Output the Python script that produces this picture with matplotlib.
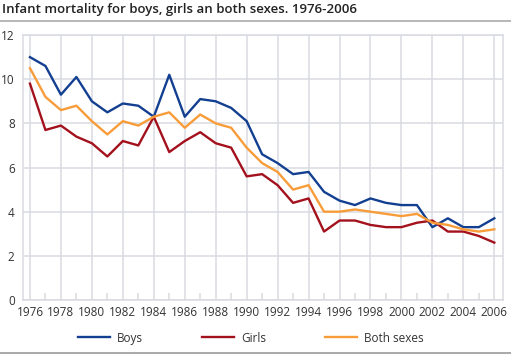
import numpy as np
import matplotlib.pyplot as plt
from matplotlib.lines import Line2D

plt.rcParams['font.family'] = ['Open Sans', 'DejaVu Sans']

years = list(range(1976, 2007))
boys = [11.0, 10.6, 9.3, 10.1, 9.0, 8.5, 8.9, 8.8, 8.3, 10.2,
        8.3, 9.1, 9.0, 8.7, 8.1, 6.6, 6.2, 5.7, 5.8, 4.9,
        4.5, 4.3, 4.6, 4.4, 4.3, 4.3, 3.3, 3.7, 3.3, 3.3, 3.7]
girls = [9.8, 7.7, 7.9, 7.4, 7.1, 6.5, 7.2, 7.0, 8.3, 6.7,
         7.2, 7.6, 7.1, 6.9, 5.6, 5.7, 5.2, 4.4, 4.6, 3.1,
         3.6, 3.6, 3.4, 3.3, 3.3, 3.5, 3.6, 3.1, 3.1, 2.9, 2.6]
both = [10.5, 9.2, 8.6, 8.8, 8.1, 7.5, 8.1, 7.9, 8.3, 8.5,
        7.8, 8.4, 8.0, 7.8, 6.9, 6.2, 5.8, 5.0, 5.2, 4.0,
        4.0, 4.1, 4.0, 3.9, 3.8, 3.9, 3.5, 3.4, 3.2, 3.1, 3.2]

fig = plt.figure(figsize=(5.11, 3.54), dpi=100)
ax = fig.add_axes([0.045, 0.1525, 0.939, 0.7485])

grid_c = '#d9dbe1'
ax.plot(years, boys, color='#133f91', lw=1.7, label='Boys', zorder=3)
ax.plot(years, girls, color='#a3111d', lw=1.7, label='Girls', zorder=3)
ax.plot(years, both, color='#f89c3a', lw=1.7, label='Both sexes', zorder=3)

ax.set_xlim(1975.55, 2006.55)
ax.set_ylim(0, 12)
ax.set_xticks(range(1976, 2007, 2))
ax.set_xticks(range(1977, 2007, 2), minor=True)
ax.set_yticks(range(0, 13, 2))
ax.grid(True, which='major', color=grid_c, lw=1.1)
ax.set_axisbelow(True)
for s in ax.spines.values():
    s.set_color(grid_c)
    s.set_linewidth(1.1)
ax.tick_params(axis='x', which='major', length=0, pad=4, labelsize=8.5, labelcolor='#333333')
ax.tick_params(axis='x', which='minor', direction='in', length=5, color=grid_c, width=1.1)
ax.tick_params(axis='y', length=0, pad=6, labelsize=8.5, labelcolor='#333333')

fig.text(0.003, 0.972, 'Infant mortality for boys, girls an both sexes. 1976-2006',
         fontsize=9.5, fontweight='semibold', color='#222222', va='center', ha='left')
fig.add_artist(Line2D([0, 1], [0.94, 0.94], color='#aaaaaa', lw=1.2))
fig.add_artist(Line2D([0, 1], [0.004, 0.004], color='#999999', lw=1.2))

fig.legend(loc='center', bbox_to_anchor=(0.491, 0.045), ncol=3, frameon=False,
           fontsize=8.5, handlelength=2.7, columnspacing=5.0, handletextpad=0.6,
           labelcolor='#333333')

fig.savefig('out.png', dpi=100)
